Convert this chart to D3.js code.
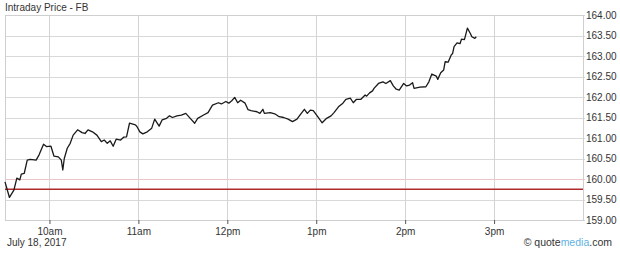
<!DOCTYPE html>
<html>
<head>
<meta charset="utf-8">
<script src="https://cdn.jsdelivr.net/npm/d3@7"></script>
<style>
  body { margin: 0; background: #fff; }
  text { font-family: "Liberation Sans", Arial, sans-serif; fill: #333; }
</style>
</head>
<body>
<svg id="chart" width="620" height="253"></svg>
<script>
// Intraday trade times and prices
var times = ["9:30","9:33","9:36","9:38","9:40","9:41","9:43","9:45","9:47","9:51","9:53","9:56","9:58",
  "10:01","10:03","10:06","10:08","10:09","10:10","10:12","10:14","10:16","10:19","10:22","10:24","10:26","10:29",
  "10:32","10:35","10:37","10:39","10:41","10:43","10:45","10:48","10:50","10:52","10:54","10:58","10:59",
  "11:01","11:03","11:06","11:09","11:11","11:14","11:16","11:19","11:21","11:23","11:26","11:29","11:32",
  "11:35","11:38","11:40","11:44","11:47","11:50","11:54","11:56","11:59",
  "12:01","12:03","12:05","12:07","12:09","12:12","12:14","12:16","12:20","12:22","12:24","12:25","12:29",
  "12:32","12:35","12:38","12:41","12:44","12:47","12:49","12:52","12:54","12:56","12:58",
  "13:01","13:04","13:07","13:10","13:12","13:15","13:18","13:20","13:23","13:25","13:27","13:30","13:33",
  "13:34","13:36","13:38","13:39","13:42","13:45","13:47","13:50","13:52","13:54","13:56","13:59",
  "14:01","14:03","14:05","14:06","14:10","14:14","14:16","14:18","14:21","14:22","14:24","14:26","14:27",
  "14:29","14:31","14:32","14:33","14:35","14:37","14:38","14:40","14:42","14:44","14:45","14:47","14:48"];

var prices = [159.93,159.55,159.73,160.02,159.98,160.12,160.14,160.46,160.48,160.46,160.59,160.85,160.79,
  160.80,160.56,160.54,160.46,160.22,160.50,160.75,160.87,161.07,161.20,161.13,161.11,161.20,161.15,
  161.07,160.91,160.95,160.87,160.93,160.80,160.97,160.95,161.02,161.03,161.36,161.32,161.28,
  161.15,161.10,161.15,161.24,161.46,161.29,161.44,161.48,161.54,161.50,161.54,161.56,161.60,
  161.48,161.36,161.48,161.56,161.62,161.80,161.86,161.83,161.89,
  161.85,161.91,161.99,161.86,161.92,161.85,161.69,161.67,161.64,161.60,161.70,161.60,161.62,
  161.59,161.52,161.50,161.46,161.40,161.46,161.56,161.70,161.60,161.68,161.67,
  161.52,161.37,161.48,161.54,161.62,161.76,161.85,161.94,161.97,161.86,161.94,161.94,162.05,
  162.02,162.10,162.15,162.21,162.33,162.37,162.33,162.40,162.27,162.19,162.17,162.33,
  162.27,162.29,162.35,162.21,162.24,162.25,162.37,162.56,162.51,162.43,162.59,162.66,162.86,
  162.85,163.02,163.06,163.23,163.32,163.30,163.41,163.40,163.68,163.55,163.47,163.43,163.47];

var prevClose = 159.75;
var priceTicks = [159, 159.5, 160, 160.5, 161, 161.5, 162, 162.5, 163, 163.5, 164];
var hourTicks = ["10:00", "11:00", "12:00", "13:00", "14:00", "15:00"];
var hourLabels = ["10am", "11am", "12pm", "1pm", "2pm", "3pm"];

// Plot area
var plotLeft = 5, plotRight = 583, plotTop = 15, plotBottom = 220;

var parseTime = d3.timeParse("%H:%M");
var data = times.map(function(t, i) {
  return { time: parseTime(t), value: prices[i] };
});

var svg = d3.select("#chart");

var x = d3.scaleTime()
  .domain([parseTime("9:30"), parseTime("16:00")])
  .range([plotLeft, plotRight]);

var y = d3.scaleLinear()
  .domain([159, 164])
  .range([plotBottom, plotTop]);

// Title
svg.append("text")
  .attr("x", 5)
  .attr("y", 11)
  .attr("font-size", 10)
  .text("Intraday Price - FB");

// Horizontal grid lines
svg.append("g")
  .selectAll("line")
  .data(priceTicks)
  .join("line")
  .attr("x1", plotLeft)
  .attr("x2", plotRight + 2)
  .attr("y1", function(d) { return Math.round(y(d)) + 0.5; })
  .attr("y2", function(d) { return Math.round(y(d)) + 0.5; })
  .attr("stroke", function(d) { return d === 160 ? "#ecc6c6" : "#d9d9d9"; })
  .attr("stroke-width", 1);

// Vertical grid lines
svg.append("g")
  .selectAll("line")
  .data(hourTicks)
  .join("line")
  .attr("x1", function(d) { return Math.round(x(parseTime(d))) + 0.5; })
  .attr("x2", function(d) { return Math.round(x(parseTime(d))) + 0.5; })
  .attr("y1", plotTop)
  .attr("y2", plotBottom)
  .attr("stroke", "#d4d4d4");

// Plot borders
svg.append("rect")
  .attr("x", plotLeft + 0.5)
  .attr("y", plotTop + 0.5)
  .attr("width", plotRight - plotLeft)
  .attr("height", plotBottom - plotTop)
  .attr("fill", "none")
  .attr("stroke", "#cfcfcf");

// Right price axis labels
svg.append("g")
  .selectAll("text")
  .data(priceTicks)
  .join("text")
  .attr("x", 586)
  .attr("y", function(d) { return y(d) + 3.5; })
  .attr("font-size", 10)
  .text(function(d) { return d3.format(".2f")(d); });

// Bottom time axis ticks and labels
var xAxis = svg.append("g")
  .attr("transform", "translate(0," + plotBottom + ")")
  .call(d3.axisBottom(x)
    .tickValues(hourTicks.map(parseTime))
    .tickSize(4)
    .tickFormat(function(d, i) { return hourLabels[i]; }));

xAxis.select(".domain").remove();
xAxis.selectAll(".tick line").attr("stroke", "#555");
xAxis.selectAll(".tick text")
  .attr("font-family", "Liberation Sans, Arial, sans-serif")
  .attr("font-size", 10)
  .attr("fill", "#333")
  .attr("y", 8);

// Previous close line
svg.append("line")
  .attr("x1", plotLeft)
  .attr("x2", plotRight)
  .attr("y1", y(prevClose))
  .attr("y2", y(prevClose))
  .attr("stroke", "#b02a2a")
  .attr("stroke-width", 1.3);

// Price line
var line = d3.line()
  .x(function(d) { return x(d.time); })
  .y(function(d) { return y(d.value); });

svg.append("path")
  .datum(data)
  .attr("fill", "none")
  .attr("stroke", "#1a1a1a")
  .attr("stroke-width", 1.3)
  .attr("stroke-linejoin", "round")
  .attr("d", line);

// Date and credit
svg.append("text")
  .attr("x", 7)
  .attr("y", 246)
  .attr("font-size", 10)
  .text("July 18, 2017");

var credit = svg.append("text")
  .attr("x", 612)
  .attr("y", 246)
  .attr("text-anchor", "end")
  .attr("font-size", 10.5);
credit.append("tspan").text("\u00a9 quote");
credit.append("tspan").style("fill", "#5fb2df").text("media");
credit.append("tspan").text(".com");
</script>
</body>
</html>
